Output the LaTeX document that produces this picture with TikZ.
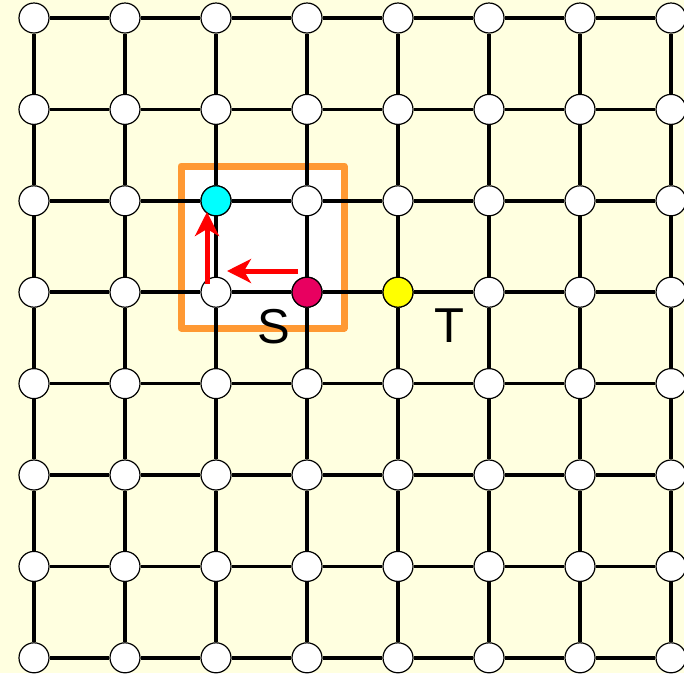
\documentclass[tikz,border=0pt]{standalone}
\usepackage{fontspec}
\setmainfont{Liberation Sans}
\usetikzlibrary{arrows.meta}

\definecolor{paper}{RGB}{255,255,224}
\definecolor{frameorange}{RGB}{255,153,51}
\definecolor{srcred}{RGB}{232,0,96}
\definecolor{goalcyan}{RGB}{0,255,255}
\definecolor{goalyellow}{RGB}{255,255,0}
\definecolor{moved}{RGB}{255,0,0}

\begin{document}
\begin{tikzpicture}[
    x=1pt, y=-1pt,
    >={Stealth[length=24pt,width=24pt,inset=7pt]},
    every node/.style={font=\fontsize{49}{50}\selectfont},
    vertex/.style={circle, draw=black, line width=1.2pt, fill=white,
                   minimum size=30pt, inner sep=0pt},
    link/.style={line width=3.5pt},
    move/.style={->, moved, line width=5pt}
]

\def\dx{91}
\def\dy{91.4}

% background
\fill[paper] (0,0) rectangle (684,673);
\useasboundingbox (0,0) rectangle (684,673);

% frame round S
\draw[frameorange, fill=white, line width=7pt, line join=round]
    (181,166) rectangle (344,328);

% vertices
\foreach \i in {0,...,7}
  \foreach \j in {0,...,7}
    \node[vertex] (v\i-\j) at ({34+\dx*\i},{18+\dy*\j}) {};

\node[vertex, fill=goalcyan] at (v2-2) {};
\node[vertex, fill=srcred] at (v3-3) {};
\node[vertex, fill=goalyellow] at (v4-3) {};

% grid links
\foreach \i [count=\n from 1] in {0,...,6}
  \foreach \j in {0,...,7}{
    \draw[link] (v\i-\j) -- (v\n-\j);
    \draw[link] (v\j-\i) -- (v\j-\n);
  }

% moves
\coordinate (hstart) at (298,271);
\coordinate (hend) at (227,271);
\coordinate (vstart) at (207,284);
\coordinate (vend) at (207,212);
\draw[move] (hstart) -- (hend);
\draw[move] (vstart) -- (vend);

\node (S) at (273.5,326.5) {S};
\node (T) at (449,326) {T};

\end{tikzpicture}
\end{document}
